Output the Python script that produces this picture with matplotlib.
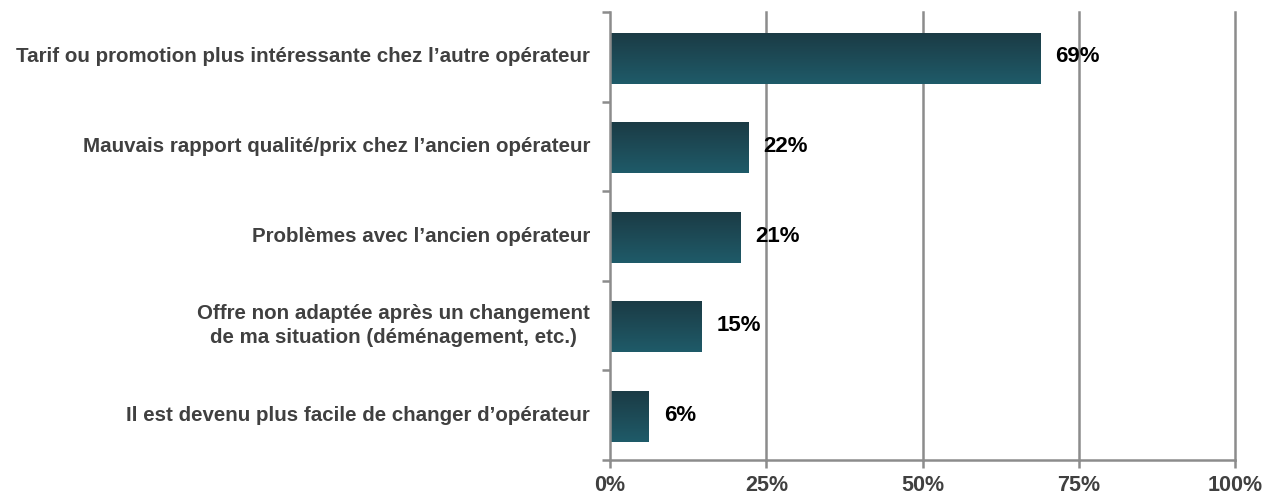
import numpy as np
import matplotlib.pyplot as plt
from matplotlib.colors import LinearSegmentedColormap

categories = [
    "Tarif ou promotion plus intéressante chez l’autre opérateur",
    "Mauvais rapport qualité/prix chez l’ancien opérateur",
    "Problèmes avec l’ancien opérateur",
    "Offre non adaptée après un changement\nde ma situation (déménagement, etc.)",
    "Il est devenu plus facile de changer d’opérateur",
]
values = [68.8, 22.1, 20.8, 14.7, 6.2]
value_labels = ["69%", "22%", "21%", "15%", "6%"]
xticks = [0, 25, 50, 75, 100]
xtick_labels = ["0%", "25%", "50%", "75%", "100%"]

plt.rcParams["font.family"] = ["Liberation Sans", "DejaVu Sans"]

fig = plt.figure(figsize=(12.63, 4.95), dpi=100)
ax = fig.add_axes([0.483, 0.0707, 0.495, 0.905])

grey = "#8c8c8c"
cmap = LinearSegmentedColormap.from_list("bar", ["#1f5b69", "#1b3b45"])
grad = np.linspace(0, 1, 256).reshape(-1, 1)

n = len(categories)
ypos = np.arange(n)[::-1]
h = 0.56

for x in xticks[1:]:
    ax.axvline(x, color=grey, lw=1.8, zorder=1, clip_on=False)

for y, v, lab in zip(ypos, values, value_labels):
    ax.imshow(grad, cmap=cmap, aspect="auto", origin="lower",
              extent=[0, v, y - h / 2 - 0.02, y + h / 2 - 0.02], zorder=2)
    ax.text(v + 2.4, y, lab, va="center", ha="left", fontsize=16,
            fontweight="bold", color="black", zorder=3)

ax.set_xlim(0, 100)
ax.set_ylim(-0.5, n - 0.5)

ax.set_xticks(xticks)
ax.set_xticklabels(xtick_labels, fontsize=15.5, fontweight="bold", color="#404040")
ax.tick_params(axis="x", length=6, width=1.8, color=grey, pad=5)

ax.set_yticks(np.arange(-0.5, n, 1.0))
ax.set_yticklabels([])
ax.tick_params(axis="y", length=6, width=1.8, color=grey)
for y, c in zip(ypos, categories):
    ax.text(-3.2, y, c, va="center", ha="right", fontsize=14.8,
            fontweight="bold", color="#404040", multialignment="center",
            linespacing=1.3)

for s in ["top", "right"]:
    ax.spines[s].set_visible(False)
for s in ["left", "bottom"]:
    ax.spines[s].set_color(grey)
    ax.spines[s].set_linewidth(1.8)

fig.savefig("out.png", dpi=100)
